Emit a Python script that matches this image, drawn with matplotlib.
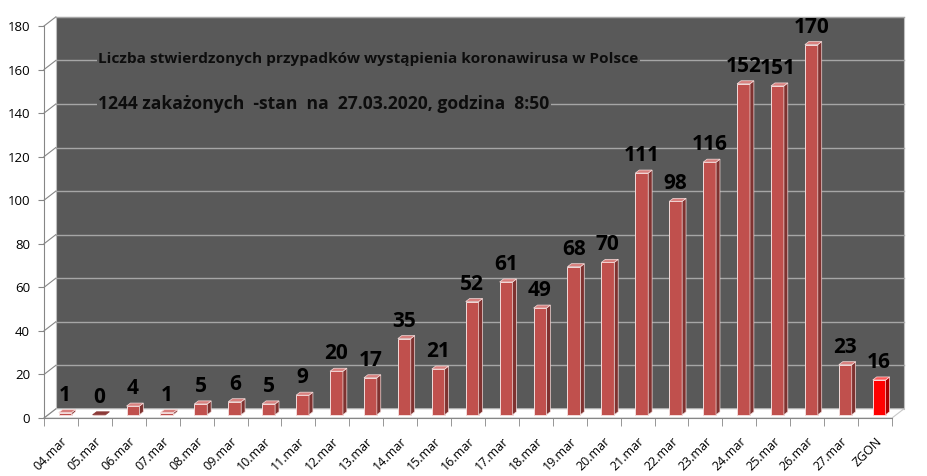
import matplotlib.pyplot as plt
from matplotlib.patches import Polygon, Rectangle

# dane z wykresu
days = ["04.mar", "05.mar", "06.mar", "07.mar", "08.mar", "09.mar", "10.mar",
        "11.mar", "12.mar", "13.mar", "14.mar", "15.mar", "16.mar", "17.mar",
        "18.mar", "19.mar", "20.mar", "21.mar", "22.mar", "23.mar", "24.mar",
        "25.mar", "26.mar", "27.mar", "ZGON"]
cases = [1, 0, 4, 1, 5, 6, 5, 9, 20, 17, 35, 21, 52, 61, 49, 68, 70, 111,
         98, 116, 152, 151, 170, 23, 16]
yticks = list(range(0, 181, 20))

title1 = "Liczba stwierdzonych przypadków wystąpienia koronawirusa w Polsce"
title2 = "1244 zakażonych  -stan  na  27.03.2020, godzina  8:50"

FONT = ["Open Sans", "DejaVu Sans"]
plt.rcParams["font.family"] = FONT

fig = plt.figure(figsize=(9.27, 4.76), dpi=100)
# axes = front plane of the 3D box
ax = fig.add_axes([44 / 927, 58 / 476, 848 / 927, 392 / 476])
ax.set_xlim(-0.5, len(days) - 0.5)
ax.set_ylim(0, 180)

# depth offset of the back wall (data units)
dx, dy = 0.35, 4.2
x0, x1 = -0.5, len(days) - 0.5
wall = "#595959"
grid_c = "#a6a6a6"

# back wall
ax.add_patch(Rectangle((x0 + dx, dy), x1 - x0, 180, facecolor=wall,
                       edgecolor="#bfbfbf", lw=0.8, clip_on=False, zorder=0))
# floor
ax.add_patch(Polygon([(x0, 0), (x1, 0), (x1 + dx, dy), (x0 + dx, dy)],
                     closed=True, facecolor="white", edgecolor="#c8c8c8",
                     lw=0.8, clip_on=False, zorder=0.5))
# gridlines on side wall + back wall
for v in yticks:
    ax.plot([x0, x0 + dx], [v, v + dy], color="#868686", lw=0.8,
            clip_on=False, zorder=0.6)
    if v > 0:
        ax.plot([x0 + dx, x1 + dx], [v + dy, v + dy], color=grid_c, lw=1.0,
                clip_on=False, zorder=0.6)

# 3D bars
f, d, w = 0.35, 0.33, 0.38
for i, v in enumerate(cases):
    last = days[i] == "ZGON"
    front = "#ff0000" if last else "#c0504d"
    side = "#a80000" if last else "#7f3230"
    top_c = "#ff5a5a" if last else "#d8807e"
    edge = "#ffd9d9" if last else "#f4dcdb"
    xl = i + f * dx - w / 2
    xr = xl + w
    b = f * dy
    t = v + f * dy
    ax.bar(i + f * dx, v, width=w, bottom=b, color=front, edgecolor=edge,
           lw=0.7, zorder=2)
    ax.add_patch(Polygon([(xr, b), (xr + d * dx, b + d * dy),
                          (xr + d * dx, t + d * dy), (xr, t)], closed=True,
                         facecolor=side, edgecolor=edge, lw=0.5, zorder=2,
                         clip_on=False))
    # flat top face (for a zero bar it is the only visible part)
    ax.add_patch(Polygon([(xl, t), (xr, t), (xr + d * dx, t + d * dy),
                          (xl + d * dx, t + d * dy)], closed=True,
                         facecolor=top_c if v > 0 else "#8c3a38",
                         edgecolor=edge if v > 0 else "#8c3a38", lw=0.5,
                         zorder=2.1, clip_on=False))
    ax.text(i + f * dx, t + 8, str(v), ha="center", va="center",
            fontsize=15, fontweight="bold", color="black", zorder=3,
            clip_on=False)

# titles inside chart
box = dict(facecolor=wall, edgecolor="none", pad=1)
ax.text(1.09, 165.0, title1, ha="left", va="center", fontsize=11.1,
        fontweight="bold", color="#0d0d0d", bbox=box, zorder=1)
ax.text(1.09, 144.0, title2, ha="left", va="center", fontsize=12.6,
        fontweight="bold", color="#0d0d0d", bbox=box, zorder=1)

# axes styling
for s in ["top", "right"]:
    ax.spines[s].set_visible(False)
ax.spines["left"].set_color("#868686")
ax.spines["bottom"].set_color("#868686")
ax.set_facecolor("none")
ax.set_yticks(yticks)
ax.tick_params(axis="y", length=4, color="#868686", labelsize=9.5, pad=6)
ax.set_xticks(range(len(days)))
ax.set_xticklabels(days, rotation=45, ha="right", rotation_mode="anchor",
                   fontsize=9)
ax.tick_params(axis="x", length=0, pad=12)
ax.set_xticks([i - 0.5 for i in range(len(days) + 1)], minor=True)
ax.tick_params(axis="x", which="minor", length=6, color="#868686")

fig.savefig("out.png", dpi=100, facecolor="white")
